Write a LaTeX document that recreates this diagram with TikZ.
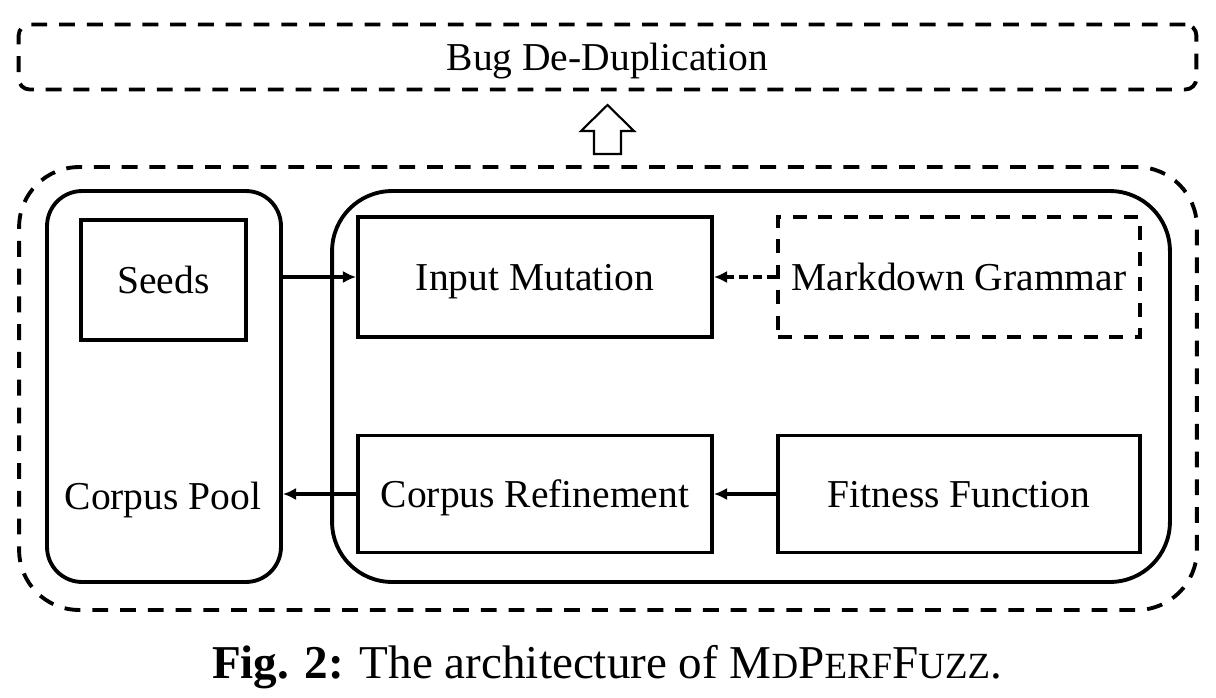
\documentclass[tikz,border=0pt]{standalone}
\usepackage{fontspec}
\setmainfont{Liberation Serif}
\usetikzlibrary{arrows.meta}

% fake small capitals for the tool name
\newcommand{\capsmall}[1]{{\fontsize{21pt}{24pt}\selectfont #1}}

\tikzset{
    label text/.style={text height=19pt, text depth=4.2pt},
    block/.style={draw, line width=2.2pt, minimum width=#1, minimum height=2.4cm, inner sep=0pt, label text},
    dashblock/.style={block=#1, dash pattern=on 8pt off 6.5pt},
    group/.style={draw, line width=2.2pt, inner sep=0pt},
    flow/.style={line width=1.8pt, -{Latex[length=7.5pt,width=7pt]}},
    hint/.style={flow, dash pattern=on 5pt off 3pt}
}

\begin{document}
\begin{tikzpicture}[x=0.02cm, y=-0.02cm, font=\fontsize{22.5pt}{27pt}\selectfont]
    \useasboundingbox (0,0) rectangle (1216,697);

    % top layer
    \node[group, label text, dash pattern=on 9pt off 6.8pt, rounded corners=0.22cm,
          minimum width=23.56cm, minimum height=1.3cm] (dedup) at (607.5,57) {Bug De-Duplication};
    \draw[line width=1.2pt, line join=miter] (607.5,105) -- (634,131) -- (621,131) -- (621,154)
        -- (594,154) -- (594,131) -- (581,131) -- cycle;

    % fuzzing loop
    \node[group, dash pattern=on 9pt off 6.8pt, rounded corners=1.2cm,
          minimum width=23.56cm, minimum height=8.86cm] (loop) at (608,388.5) {};
    \node[group, rounded corners=0.7cm, minimum width=4.68cm, minimum height=7.82cm] (pool) at (164,386.5) {};
    \node[group, rounded corners=1.2cm, minimum width=16.76cm, minimum height=7.82cm] (engine) at (751,386.5) {};

    \node[block=3.3cm] (seeds) at (163.5,280) {Seeds};
    \node[label text] (poollabel) at (163,496) {Corpus Pool};

    \node[block=7.08cm] (mutation) at (535,277) {Input Mutation};
    \node[dashblock=7.24cm] (grammar) at (959,277) {Markdown Grammar};
    \node[block=7.08cm, minimum height=2.34cm] (refine) at (535,494) {Corpus Refinement};
    \node[block=7.24cm, minimum height=2.34cm] (fitness) at (959,494) {Fitness Function};

    % connectors
    \draw[flow] (pool.east |- mutation.west) -- (mutation.west);
    \draw[hint] (grammar.west) -- (mutation.east);
    \draw[flow] (fitness.west) -- (refine.east);
    \draw[flow] (refine.west) -- (pool.east |- refine.west);

    % caption
    \node[font=\fontsize{26.8pt}{30pt}\selectfont, anchor=base] (caption) at (607,678)
        {\textbf{Fig. 2:} The architecture of M\capsmall{D}P\capsmall{ERF}F\capsmall{UZZ}.};
\end{tikzpicture}
\end{document}
